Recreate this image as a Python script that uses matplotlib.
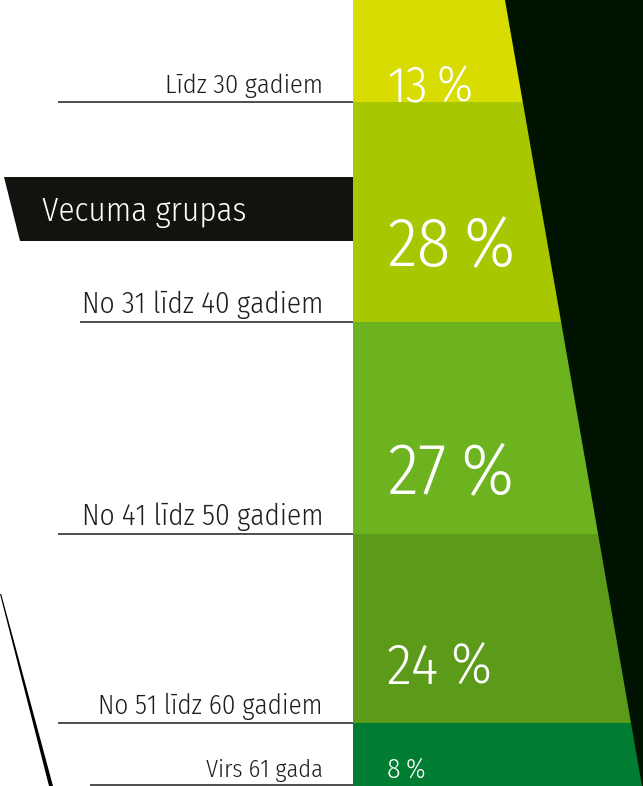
import matplotlib
matplotlib.use("Agg")
import matplotlib.pyplot as plt
from matplotlib import font_manager as fm
from matplotlib.font_manager import FontProperties
from matplotlib.patches import Polygon

# ---------------- data ----------------
categories = ["Līdz 30 gadiem", "No 31 līdz 40 gadiem", "No 41 līdz 50 gadiem",
              "No 51 līdz 60 gadiem", "Virs 61 gada"]
shares = [13, 28, 27, 24, 8]
title = "Vecuma grupas"

# ---------------- style ----------------
colors = ["#d8dc00", "#a9c700", "#6cb31f", "#5c9a1a", "#007d32"]
dark = "#001300"
W, H = 643, 786


def find_font(prefs):
    files = [f.fname for f in fm.fontManager.ttflist]
    for p in prefs:
        for fn in files:
            if fn.split('/')[-1].lower() == p.lower():
                return FontProperties(fname=fn)
    return FontProperties(family="DejaVu Sans")


FONT = find_font(["FiraSansCondensed-Light.ttf", "OpenSansCondensed-Light.ttf",
                  "OpenSans_Condensed-Light.ttf", "AsapCondensed-Light.ttf",
                  "BarlowSemiCondensed-Light.ttf"])


def fp(size):
    f = FONT.copy()
    f.set_size(size)
    return f


fig = plt.figure(figsize=(W / 100, H / 100), dpi=100)
ax = fig.add_axes([0, 0, 1, 1])
ax.set_xlim(0, W)
ax.set_ylim(100, 0)
ax.axis('off')


def py(p):  # pixel row -> axis percent units
    return p / H * 100


bar_left, bar_right = 353, W
bottoms = [sum(shares[:i]) for i in range(len(shares))]
ax.bar((bar_left + bar_right) / 2, shares, bottom=bottoms, width=bar_right - bar_left,
       color=colors, edgecolor='none', zorder=1)

# dark slanted polygon on the right
ax.add_patch(Polygon([(505, 0), (W + 5, 0), (W + 5, 100), (642, 100)],
                     closed=True, facecolor=dark, edgecolor='none', zorder=2))

# banner
ax.add_patch(Polygon([(4, py(177)), (bar_left, py(177)), (bar_left, py(241)), (20, py(241))],
                     closed=True, facecolor="#12120e", edgecolor='none', zorder=2))
ax.text(42, py(221), title, color='white', fontproperties=fp(23.8), va='baseline',
        ha='left', zorder=3)

# left slanted wedge line
ax.add_patch(Polygon([(0, py(594)), (1.2, py(594)), (53, 100), (49, 100)],
                     closed=True, facecolor='#000000', edgecolor='none', zorder=2))

# category labels and underlines
line_start = [58, 80, 58, 58, 90]
label_sizes = [19, 21, 21, 19.5, 17.5]
for i, (cat, b, s) in enumerate(zip(categories, bottoms, shares)):
    yb = b + s
    ax.plot([line_start[i], bar_left], [min(yb, py(785)), min(yb, py(785))],
            color='#1e1e1e', lw=1.1, zorder=3, solid_capstyle='butt')
    ax.text(323, yb - py(9), cat, color='#1e1e1e', fontproperties=fp(label_sizes[i]),
            ha='right', va='baseline', zorder=3)

# percentage labels (digits + % sign)
num_sizes = [36, 50, 52, 42, 20]
pct_sizes = [36, 51, 53, 41, 19.5]
num_baseline = [101, 266, 494, 684, 778]
fig.canvas.draw()
r = fig.canvas.get_renderer()
for i, s in enumerate(shares):
    t = ax.text(387, py(num_baseline[i]), f"{s}", color='white', fontproperties=fp(num_sizes[i]),
                ha='left', va='baseline', zorder=4)
    bb = t.get_window_extent(renderer=r)
    gap = num_sizes[i] * 0.26
    ax.text(bb.x1 + gap, py(num_baseline[i]), "%", color='white',
            fontproperties=fp(pct_sizes[i]), ha='left', va='baseline', zorder=4)

fig.savefig("out.png", dpi=100)
